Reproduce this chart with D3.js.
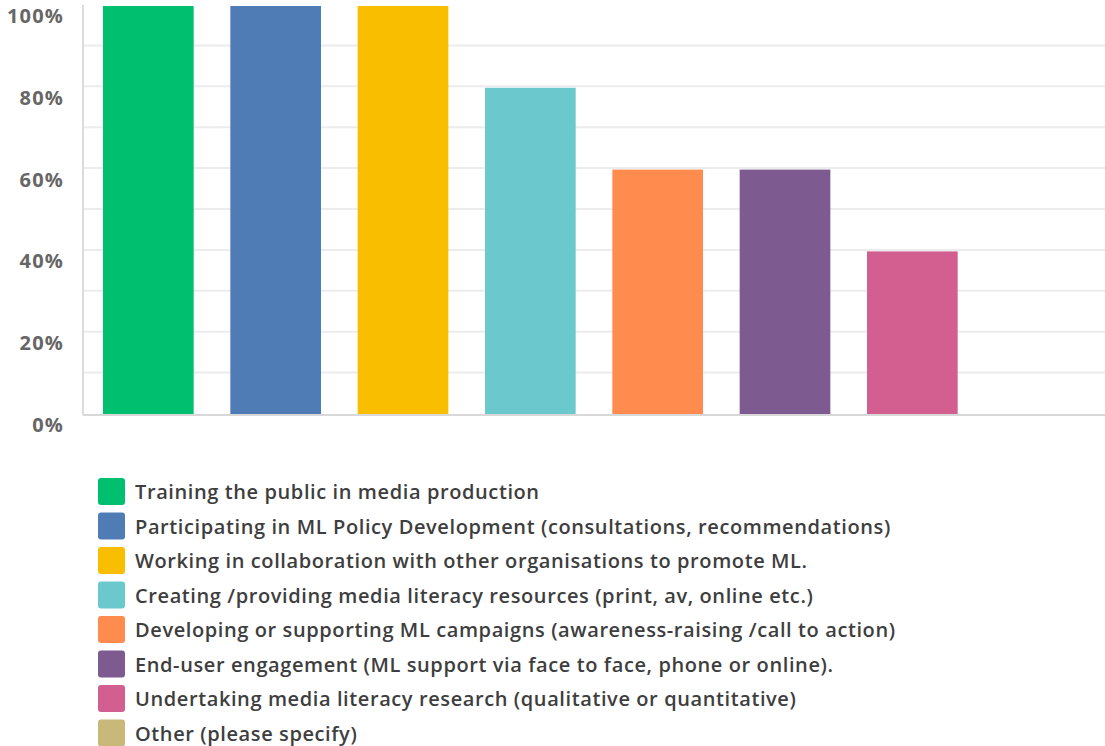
<!DOCTYPE html>
<html><head><meta charset="utf-8">
<script src="https://cdn.jsdelivr.net/npm/d3@7"></script>
<style>body{margin:0;background:#fff;} svg{display:block;}</style>
</head><body>
<svg id="c" width="1105" height="746"></svg>
<script>
const categories = [
  "Training the public in media production",
  "Participating in ML Policy Development (consultations, recommendations)",
  "Working in collaboration with other organisations to promote ML.",
  "Creating /providing media literacy resources (print, av, online etc.)",
  "Developing or supporting ML campaigns (awareness-raising /call to action)",
  "End-user engagement (ML support via face to face, phone or online).",
  "Undertaking media literacy research (qualitative or quantitative)",
  "Other (please specify)"
];
const values = [1.0, 1.0, 1.0, 0.8, 0.6, 0.6, 0.4, 0.0];
const colors = ["#00bf6f","#507cb6","#f9be00","#6bc8cd","#ff8b4f","#7d5a8f","#d25f90","#c8b97a"];
const yTicks = [0, 0.2, 0.4, 0.6, 0.8, 1.0];
const minorTicks = [0.1, 0.3, 0.5, 0.7, 0.9];

const svg = d3.select("#c");
const x = d3.scaleBand().domain(categories).range([83, 1105]).paddingInner(0.288).paddingOuter(0.157);
const y = d3.scaleLinear().domain([0, 1]).range([415, 6]);

// gridlines
svg.append("g").selectAll("line").data(yTicks.concat(minorTicks).filter(d => d > 0 && d < 1))
  .join("line")
  .attr("x1", 83).attr("x2", 1105)
  .attr("y1", d => y(d) - 1.5).attr("y2", d => y(d) - 1.5)
  .attr("stroke", "#ececec").attr("stroke-width", 2);

// axis line
svg.append("line").attr("x1", 83).attr("x2", 83).attr("y1", y(1) - 1).attr("y2", y(0))
  .attr("stroke", "#dcdcdc").attr("stroke-width", 2);

// bars
svg.append("g").selectAll("rect").data(categories).join("rect")
  .attr("x", d => x(d))
  .attr("width", x.bandwidth())
  .attr("y", (d, i) => y(values[i]))
  .attr("height", (d, i) => y(0) - y(values[i]))
  .attr("fill", (d, i) => colors[i]);

svg.append("line").attr("x1", 83).attr("x2", 1105).attr("y1", y(0)).attr("y2", y(0))
  .attr("stroke", "#d8d8d8").attr("stroke-width", 2);

// y labels
const yAxis = d3.axisLeft(y).tickValues(yTicks).tickFormat(d3.format(".0%")).tickSize(0).tickPadding(0);
const ga = svg.append("g").attr("transform", "translate(64,10)").call(yAxis);
ga.select(".domain").remove();
ga.selectAll("text")
  .attr("font-family", "'Open Sans', sans-serif")
  .attr("font-weight", 700)
  .attr("font-size", 20)
  .attr("letter-spacing", 1.2)
  .attr("fill", "#666");

// legend
const lg = svg.append("g").selectAll("g").data(categories).join("g")
  .attr("transform", (d, i) => `translate(98, ${478 + i * 34.5})`);
lg.append("rect").attr("width", 27).attr("height", 27).attr("rx", 3)
  .attr("fill", (d, i) => colors[i]);
lg.append("text").attr("x", 37).attr("y", 14).attr("dy", "0.35em")
  .attr("font-family", "'Open Sans', sans-serif")
  .attr("font-size", 20)
  .attr("font-weight", 600)
  .attr("letter-spacing", 0.6)
  .attr("fill", "#3e3e3e")
  .text(d => d);
</script>
</body></html>
